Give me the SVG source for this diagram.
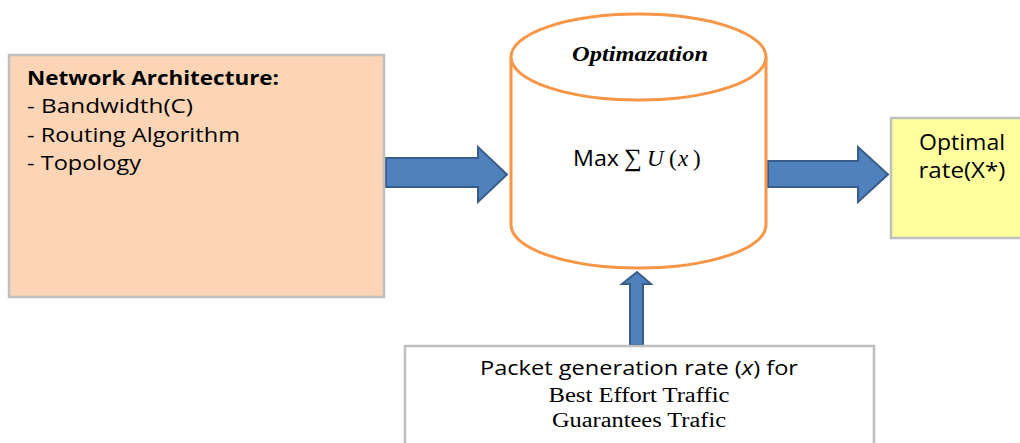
<svg xmlns="http://www.w3.org/2000/svg" width="1020" height="443" viewBox="0 0 1020 443">
  <style>
    .box { stroke: #BFBFBF; stroke-width: 2.5; }
    .arrow { fill: #4F81BD; stroke: #385D8A; stroke-width: 2; stroke-linejoin: miter; }
    .sans { font-family: "Open Sans", "Liberation Sans", sans-serif; fill: #000; }
    .serif { font-family: "Liberation Serif", "DejaVu Serif", serif; fill: #000; }
    .cyl { fill: #FFFFFF; stroke: #F79646; stroke-width: 3; }
  </style>
  <rect width="1020" height="443" fill="#FFFFFF"/>

  <!-- connectors: block arrows -->
  <g id="connectors">
    <polygon class="arrow" points="386,158 478,158 478,147 507,174.5 478,202 478,187 386,187"/>
    <polygon class="arrow" points="768,161 858,161 858,147 888,174.5 858,202 858,187 768,187"/>
    <polygon class="arrow" points="630,345 630,284 622,284 637,272 651,284 643,284 643,345"/>
  </g>

  <!-- input: network architecture -->
  <g id="network-architecture">
    <rect class="box" x="9" y="55" width="375" height="242" fill="#FBD5B5"/>
    <text class="sans" x="27" y="85" font-size="19.5" font-weight="bold" textLength="252" lengthAdjust="spacingAndGlyphs">Network Architecture:</text>
    <text class="sans" x="27" y="113" font-size="19.5" textLength="166" lengthAdjust="spacingAndGlyphs">- Bandwidth(C)</text>
    <text class="sans" x="27" y="142" font-size="19.5" textLength="213" lengthAdjust="spacingAndGlyphs">- Routing Algorithm</text>
    <text class="sans" x="27" y="170" font-size="19.5" textLength="114" lengthAdjust="spacingAndGlyphs">- Topology</text>
  </g>

  <!-- optimisation cylinder -->
  <g id="optimization">
    <path class="cyl" d="M511,57 L511,225 A127.5,43 0 0 0 766,225 L766,57"/>
    <ellipse class="cyl" cx="638.5" cy="57" rx="127.5" ry="43"/>
    <text class="serif" x="640" y="61" font-size="20.5" font-weight="bold" font-style="italic" text-anchor="middle" textLength="136" lengthAdjust="spacingAndGlyphs">Optimazation</text>
    <text y="166" font-size="22">
      <tspan class="sans" x="573" font-size="21" textLength="46" lengthAdjust="spacingAndGlyphs">Max</tspan>
      <tspan class="serif" x="624" font-size="25">∑</tspan>
      <tspan class="serif" x="647" font-style="italic" font-size="23">U</tspan>
      <tspan class="serif" x="669" font-size="23">(</tspan>
      <tspan class="serif" x="678" font-style="italic" font-size="23">x</tspan>
      <tspan class="serif" x="693" font-size="23">)</tspan>
    </text>
  </g>

  <!-- output: optimal rate -->
  <g id="optimal-rate">
    <rect class="box" x="891" y="118" width="140" height="120" fill="#FFFF9E"/>
    <text class="sans" x="962" y="150" font-size="21.5" text-anchor="middle" textLength="86" lengthAdjust="spacingAndGlyphs">Optimal</text>
    <text class="sans" x="962" y="178" font-size="21.5" text-anchor="middle" textLength="87" lengthAdjust="spacingAndGlyphs">rate(X*)</text>
  </g>

  <!-- input: packet generation rate -->
  <g id="packet-rate">
    <rect class="box" x="405" y="346" width="469" height="110" fill="#FFFFFF"/>
    <text class="sans" x="639" y="375" font-size="20" text-anchor="middle" textLength="318" lengthAdjust="spacingAndGlyphs">Packet generation rate (<tspan font-style="italic">x</tspan>) for</text>
    <text class="serif" x="639" y="402" font-size="20.5" text-anchor="middle" textLength="181" lengthAdjust="spacingAndGlyphs">Best Effort Traffic</text>
    <text class="serif" x="639" y="427" font-size="20.5" text-anchor="middle" textLength="174" lengthAdjust="spacingAndGlyphs">Guarantees Trafic</text>
  </g>
</svg>
